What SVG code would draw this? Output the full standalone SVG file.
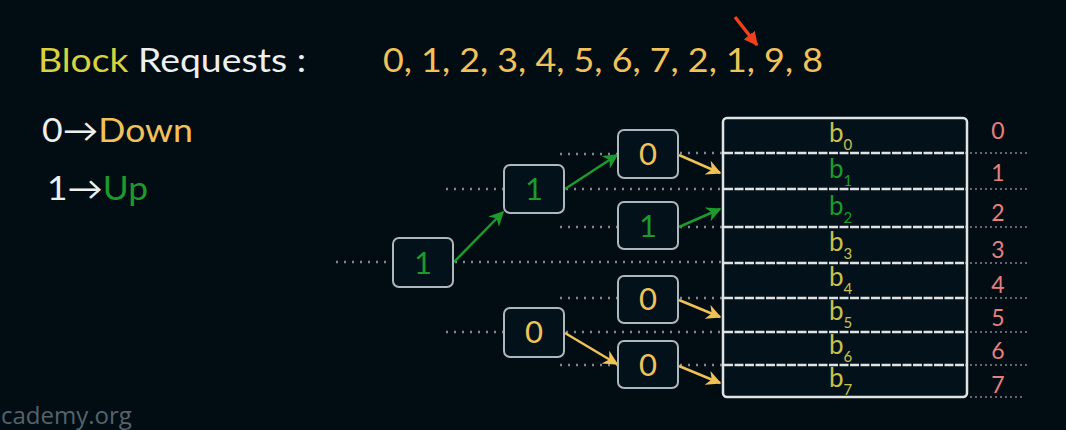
<svg xmlns="http://www.w3.org/2000/svg" width="1066" height="430" viewBox="0 0 1066 430">
<defs>
<marker id="ag" viewBox="0 0 10 10" refX="9" refY="5" markerWidth="6" markerHeight="6" orient="auto"><path d="M0,0 L10,5 L0,10 L3,5 z" fill="#1c9a2c"/></marker>
<marker id="ay" viewBox="0 0 10 10" refX="9" refY="5" markerWidth="6" markerHeight="6" orient="auto"><path d="M0,0 L10,5 L0,10 L3,5 z" fill="#f0c154"/></marker>
<marker id="ar" viewBox="0 0 10 10" refX="9" refY="5" markerWidth="4" markerHeight="4" orient="auto"><path d="M0,0 L10,5 L0,10 z" fill="#f0401a"/></marker>
</defs>
<style>
.t{font-family:Lato,"Open Sans",sans-serif}
.node rect{fill:#03121a;stroke:#aeb7bb;stroke-width:2}
.node text{font-family:Lato,"Open Sans",sans-serif;font-size:31px;text-anchor:middle}
.g{fill:#1c9a2c}
.y{fill:#f2c25a}
.dot{stroke:#7d878c;stroke-width:2.5;stroke-dasharray:2 6;fill:none}
.dotr{stroke:#7d878c;stroke-width:1.5;stroke-dasharray:2 3;fill:none}
.cg{stroke:#1c9a2c;stroke-width:2.5;fill:none;marker-end:url(#ag)}
.cy{stroke:#f0c154;stroke-width:2.5;fill:none;marker-end:url(#ay)}
.div{stroke:#dfe3e4;stroke-width:2.5;stroke-dasharray:9 1.5}
.b{font-family:Lato,"Open Sans",sans-serif;font-size:26px}
.b tspan{font-size:15px}
.bl{fill:#c9c24a}
.idx{font-family:Lato,"Open Sans",sans-serif;font-size:23px;fill:#e6807e;text-anchor:middle}
</style>
<rect width="1066" height="430" fill="#020d13"/>

<g id="title">
<text class="t" x="38" y="72" font-size="33" textLength="268" lengthAdjust="spacingAndGlyphs"><tspan fill="#d9d23e">Block</tspan><tspan fill="#eef0f0"> Requests :</tspan></text>
<text class="t" x="383" y="72" font-size="33" fill="#f2c25a" textLength="440" lengthAdjust="spacingAndGlyphs">0, 1, 2, 3, 4, 5, 6, 7, 2, 1, 9, 8</text>
<line x1="735" y1="17" x2="757" y2="45" stroke="#f0401a" stroke-width="3.5" marker-end="url(#ar)"/>
</g>

<g id="legend">
<text class="t" x="42" y="142" font-size="32" textLength="151" lengthAdjust="spacingAndGlyphs"><tspan fill="#eef0f0">0→</tspan><tspan fill="#f2c25a">Down</tspan></text>
<text class="t" x="47" y="200" font-size="32" textLength="101" lengthAdjust="spacingAndGlyphs"><tspan fill="#eef0f0">1→</tspan><tspan fill="#1c9a2c">Up</tspan></text>
</g>

<g id="guides">
<path class="dot" d="M336,262 H393 M455,262 H723"/>
<path class="dot" d="M446,189 H504 M566,189 H723"/>
<path class="dot" d="M446,332 H504 M566,332 H723"/>
<path class="dot" d="M560,154 H618 M680,153 H723"/>
<path class="dot" d="M560,227 H618 M680,227 H723"/>
<path class="dot" d="M560,298 H618 M680,298 H723"/>
<path class="dot" d="M560,365 H618 M680,365 H723"/>
<path class="dotr" d="M970,153 H1030 M970,189 H1030 M970,227 H1030 M970,263 H1030 M970,298 H1030 M970,332 H1030 M970,365 H1030 M970,397 H1025"/>
</g>

<g id="connectors">
<line class="cg" x1="454" y1="262" x2="503" y2="212"/>
<line class="cg" x1="565" y1="189" x2="617" y2="155"/>
<line class="cy" x1="679" y1="155" x2="720" y2="173"/>
<line class="cg" x1="679" y1="227" x2="720" y2="209"/>
<line class="cy" x1="679" y1="300" x2="720" y2="317"/>
<line class="cy" x1="565" y1="333" x2="617" y2="364"/>
<line class="cy" x1="679" y1="366" x2="720" y2="383"/>
</g>

<g id="n-root" class="node"><rect x="393" y="238" width="60" height="49" rx="6"/><text class="g" x="423" y="274">1</text></g>
<g id="n-l1" class="node"><rect x="504" y="165" width="60" height="48" rx="6"/><text class="g" x="534" y="200">1</text></g>
<g id="n-l0" class="node"><rect x="504" y="308" width="60" height="49" rx="6"/><text class="y" x="534" y="343">0</text></g>
<g id="n-l10" class="node"><rect x="618" y="130" width="60" height="48" rx="6"/><text class="y" x="648" y="165">0</text></g>
<g id="n-l11" class="node"><rect x="618" y="202" width="60" height="47" rx="6"/><text class="g" x="648" y="237">1</text></g>
<g id="n-l00a" class="node"><rect x="618" y="276" width="60" height="47" rx="6"/><text class="y" x="648" y="310">0</text></g>
<g id="n-l00b" class="node"><rect x="618" y="341" width="60" height="47" rx="6"/><text class="y" x="648" y="376">0</text></g>

<g id="blocks">
<rect x="723" y="118" width="244" height="279" rx="4" fill="#03121a" stroke="#dfe3e4" stroke-width="2.5"/>
<line class="div" x1="724" y1="153" x2="966" y2="153"/>
<line class="div" x1="724" y1="189" x2="966" y2="189"/>
<line class="div" x1="724" y1="227" x2="966" y2="227"/>
<line class="div" x1="724" y1="263" x2="966" y2="263"/>
<line class="div" x1="724" y1="298" x2="966" y2="298"/>
<line class="div" x1="724" y1="332" x2="966" y2="332"/>
<line class="div" x1="724" y1="365" x2="966" y2="365"/>
<text class="b bl" x="829" y="142">b<tspan dy="8">0</tspan></text>
<text class="b g" x="829" y="178">b<tspan dy="8">1</tspan></text>
<text class="b g" x="829" y="215">b<tspan dy="8">2</tspan></text>
<text class="b bl" x="829" y="251">b<tspan dy="8">3</tspan></text>
<text class="b bl" x="829" y="286">b<tspan dy="8">4</tspan></text>
<text class="b bl" x="829" y="320">b<tspan dy="8">5</tspan></text>
<text class="b bl" x="829" y="354">b<tspan dy="8">6</tspan></text>
<text class="b bl" x="829" y="387">b<tspan dy="8">7</tspan></text>
</g>

<g id="indices">
<text class="idx" x="998" y="139">0</text>
<text class="idx" x="998" y="181">1</text>
<text class="idx" x="998" y="221">2</text>
<text class="idx" x="998" y="258">3</text>
<text class="idx" x="998" y="293">4</text>
<text class="idx" x="998" y="326">5</text>
<text class="idx" x="998" y="359">6</text>
<text class="idx" x="998" y="393">7</text>
</g>

<text x="1" y="424" font-family="'Open Sans',sans-serif" font-size="24" fill="#55636b">cademy.org</text>
</svg>
